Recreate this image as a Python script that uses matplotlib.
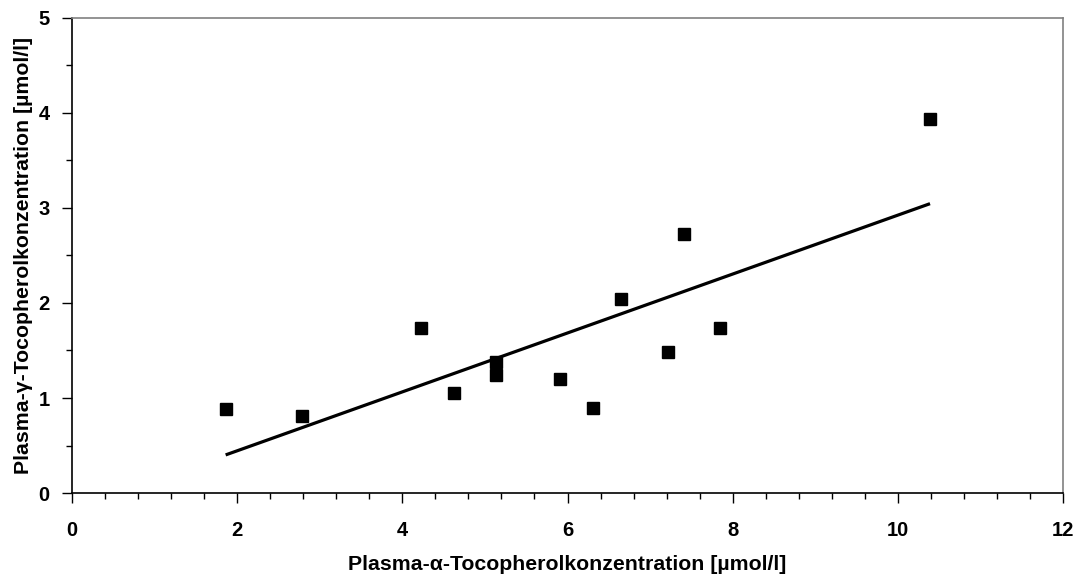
import numpy as np
import matplotlib
matplotlib.use("Agg")
import matplotlib.pyplot as plt
from matplotlib.ticker import MultipleLocator

plt.rcParams["font.family"] = ["Liberation Sans", "DejaVu Sans"]

# plasma alpha- vs gamma-tocopherol (umol/l)
alpha_toc = [1.86, 2.78, 4.23, 4.62, 5.13, 5.13, 5.91, 6.31, 6.65, 7.22, 7.41, 7.85, 10.39]
gamma_toc = [0.88, 0.81, 1.74, 1.05, 1.38, 1.24, 1.20, 0.89, 2.04, 1.48, 2.73, 1.74, 3.94]

x = np.array(alpha_toc)
y = np.array(gamma_toc)
slope, icpt = np.polyfit(x, y, 1)
xs = np.array([x.min(), x.max()])

fig = plt.figure(figsize=(10.85, 5.78), dpi=100)
ax = fig.add_axes([0.0664, 0.147, 0.9133, 0.822])

ax.plot(xs, slope * xs + icpt, color="black", lw=2.3, solid_capstyle="butt")
ax.plot(x, y, ls="none", marker="s", ms=8, color="black", mec="black")

ax.set_xlim(0, 12)
ax.set_ylim(0, 5)
ax.xaxis.set_major_locator(MultipleLocator(2))
ax.xaxis.set_minor_locator(MultipleLocator(0.4))
ax.yaxis.set_major_locator(MultipleLocator(1))
ax.yaxis.set_minor_locator(MultipleLocator(0.5))
ax.tick_params(which="major", direction="out", length=7, width=1, labelsize=14.5)
ax.tick_params(axis="x", which="major", pad=13)
ax.tick_params(axis="y", which="major", pad=9)
ax.tick_params(which="minor", direction="out", length=4, width=1)
for lab in ax.get_xticklabels() + ax.get_yticklabels():
    lab.set_fontweight("bold")

for s in ("top", "right"):
    ax.spines[s].set_color("#808080")
    ax.spines[s].set_linewidth(1.2)
for s in ("left", "bottom"):
    ax.spines[s].set_color("black")
    ax.spines[s].set_linewidth(1.2)

ax.set_xlabel("Plasma-α-Tocopherolkonzentration [µmol/l]", fontsize=15.3,
              fontweight="bold", labelpad=11)
ax.set_ylabel("Plasma-γ-Tocopherolkonzentration [µmol/l]", fontsize=15.3,
              fontweight="bold", labelpad=4)

fig.savefig("out.png", dpi=100)
